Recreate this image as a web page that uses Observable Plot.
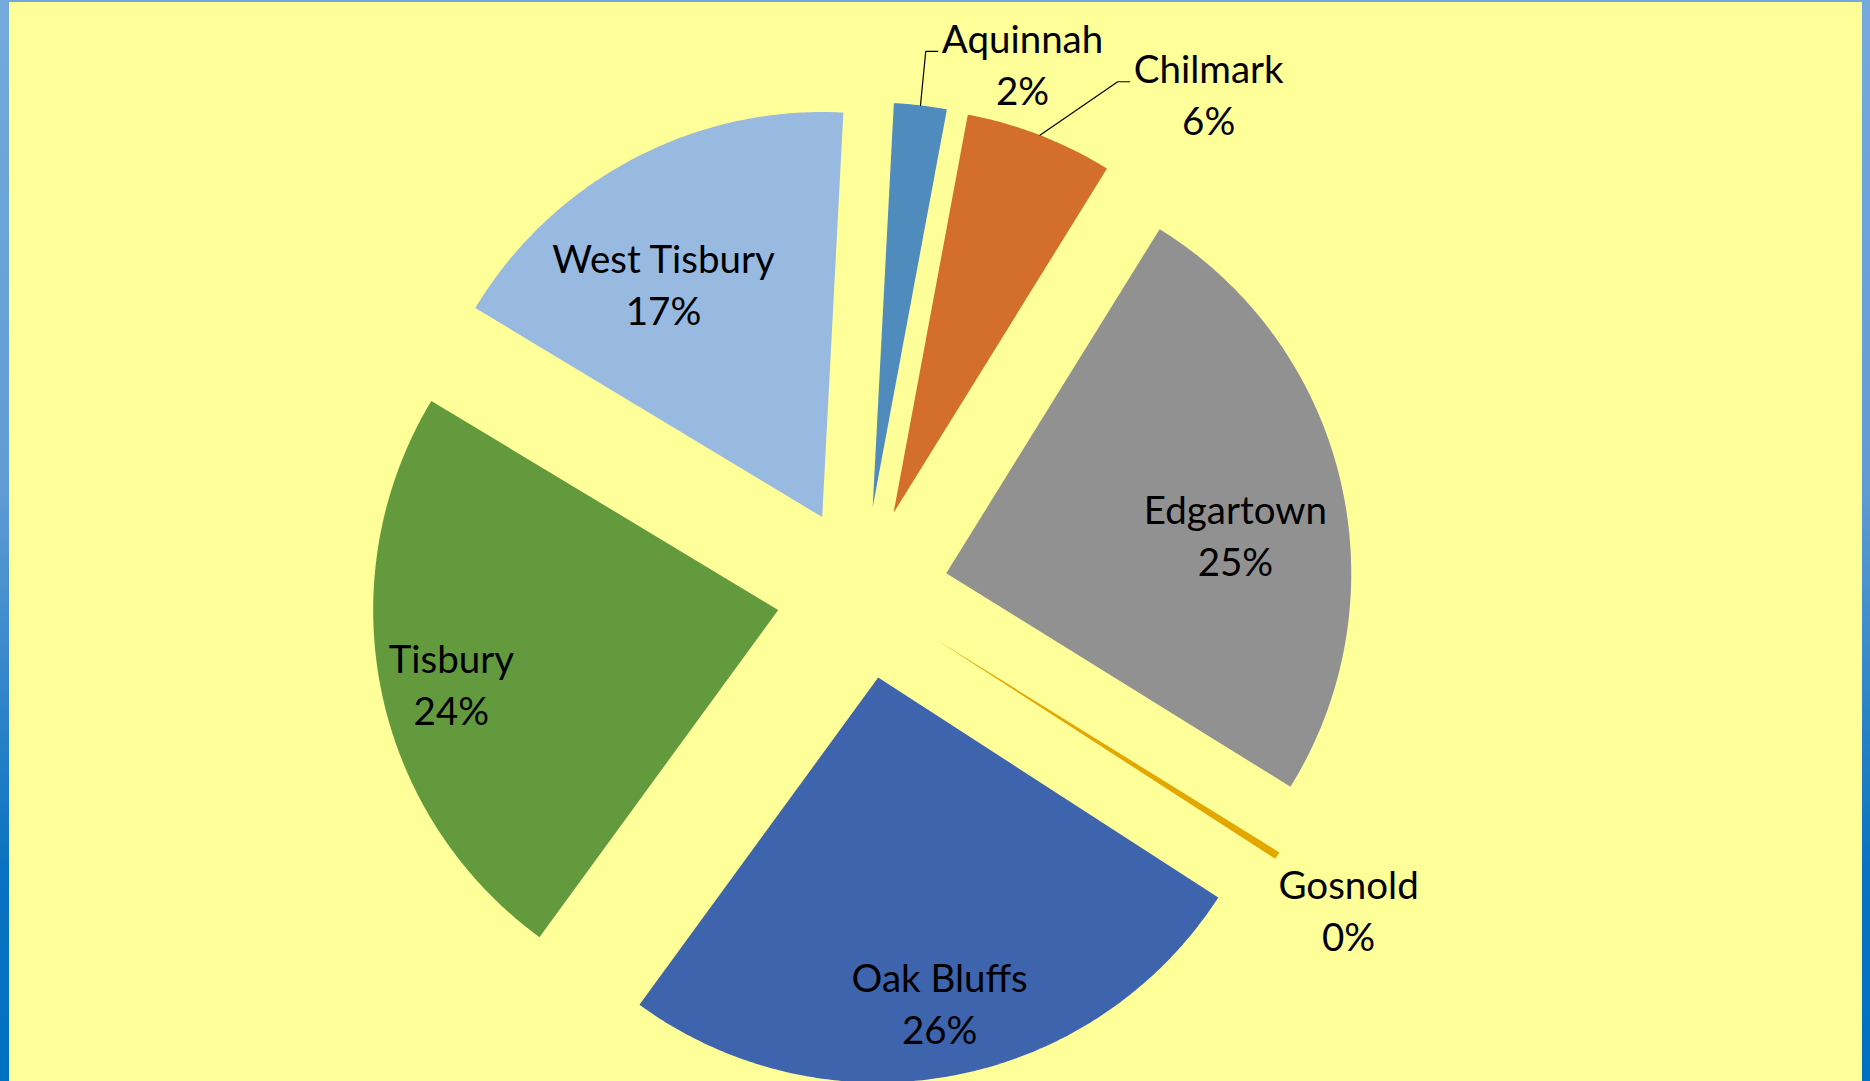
<!DOCTYPE html>
<html>
<head>
<meta charset="utf-8">
<script src="https://cdn.jsdelivr.net/npm/d3@7"></script>
<script src="https://cdn.jsdelivr.net/npm/@observablehq/plot@0.6"></script>
<style>
html, body { margin: 0; padding: 0; width: 1870px; height: 1081px; overflow: hidden; }
body { position: relative; background: linear-gradient(to bottom, #74AADB 0%, #5F9CD4 45%, #0A72C1 80%, #0070C0 100%); }
#panel { position: absolute; left: 9px; top: 2px; width: 1853px; height: 1079px; background: #FFFF99; }
#chart { position: absolute; left: 0; top: 0; }
</style>
</head>
<body>
<div id="panel"></div>
<div id="chart"></div>
<script>
// ---- data ----
const towns = ["Aquinnah", "Chilmark", "Edgartown", "Gosnold", "Oak Bluffs", "Tisbury", "West Tisbury"];
const shares = [2.1, 5.9, 25.0, 0.3, 25.9, 23.6, 17.2];
const sliceColors = ["#508BBE", "#D36F2B", "#919191", "#E3A700", "#3D64AD", "#639A3E", "#98B9E0"];

// ---- layout (chart geometry, not data) ----
const W = 1870, H = 1081;
const pxPerUnit = 405;            // pie radius in pixels
const cx = 862, cy = 592.5;       // pie centre in pixels
const firstSliceAngle = 3;        // degrees, clockwise from 12 o'clock
const explode = 86 / 405;         // slice explosion, in radii
const labelAngle = [16.9, 34.9, 81.5, 123.3, 169.4, 257.2, 327.0];
const labelRadius = [1.359, 1.494, 0.931, 1.436, 1.036, 1.041, 0.902];
const hasLeader = [true, true, false, false, false, false, false];
const fontSize = 38.5, lineHeight = 1.35, fontFamily = "Lato";

// ---- geometry from values ----
const total = d3.sum(shares);
const rad = deg => deg * Math.PI / 180;
const pt = (deg, r) => ({x: r * Math.sin(rad(deg)), y: r * Math.cos(rad(deg))});

const slicePts = [];
const bisectors = [];
let acc = 0;
towns.forEach((name, i) => {
  const a0 = firstSliceAngle + acc / total * 360;
  acc += shares[i];
  const a1 = firstSliceAngle + acc / total * 360;
  const mid = (a0 + a1) / 2;
  bisectors.push(mid);
  const off = pt(mid, explode);
  slicePts.push({name, x: off.x, y: off.y});
  const steps = Math.max(2, Math.ceil((a1 - a0) / 0.5));
  for (let k = 0; k <= steps; k++) {
    const a = a0 + (a1 - a0) * k / steps;
    const p = pt(a, 1);
    slicePts.push({name, x: off.x + p.x, y: off.y + p.y});
  }
});

const ctx = document.createElement("canvas").getContext("2d");
ctx.font = `${fontSize}px ${fontFamily}`;

const labels = towns.map((name, i) => {
  const p = pt(labelAngle[i], labelRadius[i]);
  return {name, x: p.x, y: p.y, text: `${name}\n${Math.round(shares[i] / total * 100)}%`};
});

const leaderPts = [];
towns.forEach((name, i) => {
  if (!hasLeader[i]) return;
  const start = pt(bisectors[i], 1 + explode);
  const lab = labels[i];
  const w = ctx.measureText(name).width / pxPerUnit;
  const yLine = lab.y + 15 / pxPerUnit;
  const left = lab.x - w / 2;
  leaderPts.push({name, x: start.x, y: start.y});
  leaderPts.push({name, x: left - 16 / pxPerUnit, y: yLine});
  leaderPts.push({name, x: left - 4 / pxPerUnit, y: yLine});
});

const chart = Plot.plot({
  width: W,
  height: H,
  margin: 0,
  x: {domain: [-cx / pxPerUnit, (W - cx) / pxPerUnit], axis: null},
  y: {domain: [(cy - H) / pxPerUnit, cy / pxPerUnit], axis: null},
  color: {domain: towns, range: sliceColors},
  style: {background: "transparent", fontFamily: fontFamily},
  marks: [
    Plot.line(slicePts, {x: "x", y: "y", z: "name", fill: "name", stroke: "none", curve: "linear-closed"}),
    Plot.line(leaderPts, {x: "x", y: "y", z: "name", stroke: "black", strokeWidth: 1.2}),
    Plot.text(labels, {x: "x", y: "y", text: "text", dy: -4, fontSize: fontSize, lineHeight: lineHeight, fill: "black", fontFamily: fontFamily})
  ]
});
document.getElementById("chart").appendChild(chart);
</script>
</body>
</html>
